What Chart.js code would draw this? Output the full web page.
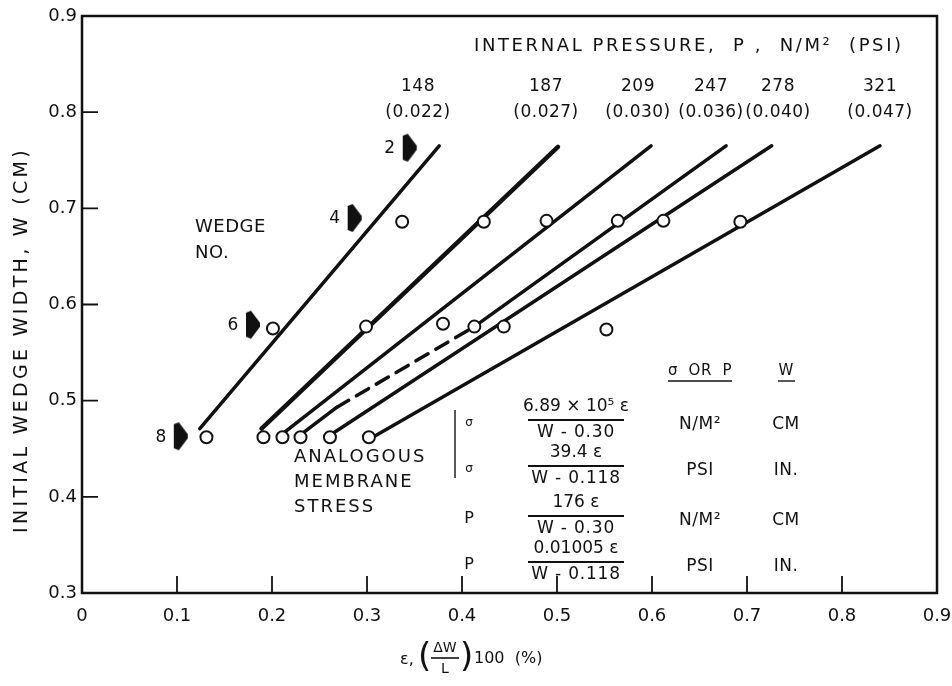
<!DOCTYPE html>
<html>
<head>
<meta charset="utf-8">
<script src="https://cdn.jsdelivr.net/npm/chart.js@4.4.0/dist/chart.umd.min.js"></script>
<style>
  body { margin: 0; background: #fff; }
</style>
</head>
<body>
<canvas id="wedgeChart" width="952" height="686"></canvas>
<script>
// Internal pressure of each test line, N/M^2 and (PSI)
const pressureNm2 = ['148', '187', '209', '247', '278', '321'];
const pressurePsi = ['(0.022)', '(0.027)', '(0.030)', '(0.036)', '(0.040)', '(0.047)'];

// Measured points: strain (%) against initial wedge width (cm)
const pointStrain = [0.131, 0.191, 0.211, 0.230, 0.261, 0.302,
                     0.201, 0.299, 0.380, 0.413, 0.444, 0.552,
                     0.337, 0.423, 0.489, 0.564, 0.612, 0.693];
const pointWidth = [0.462, 0.462, 0.462, 0.462, 0.462, 0.462,
                    0.575, 0.577, 0.580, 0.577, 0.577, 0.574,
                    0.686, 0.686, 0.687, 0.687, 0.687, 0.686];

// Fitted line ends, one per pressure
const lineStartStrain = [0.124, 0.189, 0.213, 0.232, 0.261, 0.306];
const lineStartWidth = [0.471, 0.471, 0.467, 0.466, 0.464, 0.462];
const lineEndStrain = [0.376, 0.501, 0.599, 0.678, 0.726, 0.840];
const lineEndWidth = [0.765, 0.764, 0.765, 0.765, 0.765, 0.765];
// the 247 line runs dashed between these two points
const dashFrom = { x: 0.268, y: 0.493 };
const dashTo = { x: 0.413, y: 0.577 };

// Wedge number markers
const wedgeNo = ['2', '4', '6', '8'];
const wedgeStrain = [0.345, 0.287, 0.180, 0.104];
const wedgeWidth = [0.763, 0.690, 0.579, 0.463];

const xTicks = [0.1, 0.2, 0.3, 0.4, 0.5, 0.6, 0.7, 0.8];
const yTicks = [0.4, 0.5, 0.6, 0.7, 0.8];

const INK = '#111';
Chart.defaults.font.family = '"DejaVu Sans", sans-serif';
Chart.defaults.color = INK;

// filled arrow used to flag the wedge numbers
function wedgeArrow() {
    const c = document.createElement('canvas');
    c.width = 16;
    c.height = 30;
    const g = c.getContext('2d');
    g.fillStyle = INK;
    g.beginPath();
    g.moveTo(1, 3);
    g.lineTo(6, 1);
    g.lineTo(15, 13);
    g.lineTo(15, 17);
    g.lineTo(6, 29);
    g.lineTo(1, 27);
    g.closePath();
    g.fill();
    return c;
}

const datasets = [];

datasets.push({
    label: 'points',
    data: pointStrain.map((x, i) => ({ x: x, y: pointWidth[i] })),
    pointStyle: 'circle',
    pointRadius: 6,
    pointBorderWidth: 2,
    pointBackgroundColor: '#fff',
    pointBorderColor: INK,
    showLine: false,
    order: 0
});

datasets.push({
    label: 'wedges',
    data: wedgeStrain.map((x, i) => ({ x: x, y: wedgeWidth[i] })),
    pointStyle: wedgeArrow(),
    showLine: false,
    order: 0
});

pressureNm2.forEach((p, i) => {
    let pts = [{ x: lineStartStrain[i], y: lineStartWidth[i] }];
    if (i === 3) pts.push(dashFrom, dashTo);
    pts.push({ x: lineEndStrain[i], y: lineEndWidth[i] });
    datasets.push({
        label: p,
        type: 'line',
        data: pts,
        borderColor: INK,
        borderWidth: i === 1 ? 4.5 : 3.5,
        pointRadius: 0,
        fill: false,
        tension: 0,
        borderCapStyle: 'round',
        segment: i === 3 ? { borderDash: ctx => ctx.p0DataIndex === 1 ? [14, 9] : undefined } : undefined,
        order: 1
    });
});

function txt(ctx, s, x, y, size, align, spacing) {
    ctx.font = size + 'px "DejaVu Sans"';
    ctx.letterSpacing = (spacing || 0) + 'px';
    ctx.textAlign = align || 'left';
    ctx.textBaseline = 'middle';
    ctx.fillText(s, x, y);
}

function hline(ctx, x1, x2, y, w) {
    ctx.lineWidth = w || 1.6;
    ctx.beginPath();
    ctx.moveTo(x1, y);
    ctx.lineTo(x2, y);
    ctx.stroke();
}

// box round the plot with inward tick marks
const framePlugin = {
    id: 'frame',
    beforeDatasetsDraw(chart) {
        const { ctx, chartArea: a, scales: { x, y } } = chart;
        ctx.save();
        ctx.strokeStyle = INK;
        ctx.lineWidth = 2.5;
        ctx.strokeRect(a.left, a.top, a.right - a.left, a.bottom - a.top);
        ctx.lineWidth = 1.8;
        ctx.beginPath();
        xTicks.forEach(v => {
            const px = x.getPixelForValue(v);
            ctx.moveTo(px, a.bottom);
            ctx.lineTo(px, a.bottom - 17);
        });
        yTicks.forEach(v => {
            const py = y.getPixelForValue(v);
            ctx.moveTo(a.left, py);
            ctx.lineTo(a.left + 16, py);
        });
        ctx.stroke();
        ctx.restore();
    }
};

// titles, pressure labels, wedge numbers and the stress table
const notesPlugin = {
    id: 'notes',
    afterDatasetsDraw(chart) {
        const ctx = chart.ctx;
        ctx.save();
        ctx.fillStyle = INK;
        ctx.strokeStyle = INK;

        // wedge numbers beside the arrows
        const wm = chart.getDatasetMeta(1);
        wm.data.forEach((el, i) => txt(ctx, wedgeNo[i], el.x - 20, el.y + 1, 17, 'center'));

        // pressure heading and labels over the lines
        txt(ctx, 'INTERNAL PRESSURE,  P ,  N/M\u00B2  (PSI)', 474, 46, 18, 'left', 2.6);
        const labelX = [418, 546, 638, 711, 778, 880];
        pressureNm2.forEach((p, i) => {
            txt(ctx, p, labelX[i], 87, 17, 'center', 0.5);
            txt(ctx, pressurePsi[i], labelX[i], 113, 17, 'center', 0.5);
        });

        txt(ctx, 'WEDGE', 195, 227, 18, 'left', 0.5);
        txt(ctx, 'NO.', 195, 253, 18, 'left', 0.5);

        txt(ctx, 'ANALOGOUS', 294, 457, 18, 'left', 2);
        txt(ctx, 'MEMBRANE', 294, 482, 18, 'left', 2);
        txt(ctx, 'STRESS', 294, 507, 18, 'left', 2);

        // table of stress formulas
        txt(ctx, '\u03C3  OR  P', 700, 371, 15, 'center', 0.5);
        hline(ctx, 668, 732, 381, 1.4);
        txt(ctx, 'W', 786, 371, 15, 'center');
        hline(ctx, 778, 795, 381, 1.4);

        ctx.lineWidth = 1.4;
        ctx.beginPath();
        ctx.moveTo(455, 410);
        ctx.lineTo(455, 478);
        ctx.stroke();

        const rows = [
            { sym: '\u03C3', num: '6.89 \u00D7 10\u2075 \u03B5', den: 'W - 0.30', bar: 420, unit: 'N/M\u00B2', w: 'CM', small: true },
            { sym: '\u03C3', num: '39.4 \u03B5', den: 'W - 0.118', bar: 466, unit: 'PSI', w: 'IN.', small: true },
            { sym: 'P', num: '176 \u03B5', den: 'W - 0.30', bar: 516, unit: 'N/M\u00B2', w: 'CM' },
            { sym: 'P', num: '0.01005 \u03B5', den: 'W - 0.118', bar: 562, unit: 'PSI', w: 'IN.' }
        ];
        rows.forEach(r => {
            txt(ctx, r.sym, 469, r.bar + 3, r.small ? 12 : 16, 'center');
            txt(ctx, r.num, 576, r.bar - 13, 17, 'center', 0);
            hline(ctx, 528, 624, r.bar, 2);
            txt(ctx, r.den, 576, r.bar + 13, 17, 'center', 0.8);
            txt(ctx, r.unit, 700, r.bar + 5, 17, 'center', 0.5);
            txt(ctx, r.w, 786, r.bar + 5, 17, 'center', 0.5);
        });

        // x axis title with the strain fraction
        txt(ctx, '\u03B5,', 400, 660, 16, 'left');
        txt(ctx, '(', 418, 658, 34, 'left');
        txt(ctx, '\u0394W', 445, 648, 14, 'center');
        hline(ctx, 431, 459, 658, 1.6);
        txt(ctx, 'L', 445, 669, 14, 'center');
        txt(ctx, ')', 460, 658, 34, 'left');
        txt(ctx, '100  (%)', 474, 659, 16, 'left');

        // y axis title
        ctx.translate(22, 340);
        ctx.rotate(-Math.PI / 2);
        txt(ctx, 'INITIAL WEDGE WIDTH, W (CM)', 0, 0, 19, 'center', 3.3);
        ctx.restore();
    }
};

const chart = new Chart(document.getElementById('wedgeChart'), {
    type: 'scatter',
    data: { datasets: datasets },
    options: {
        responsive: false,
        animation: false,
        layout: { padding: { top: 16, right: 15, left: 0, bottom: 0 } },
        plugins: {
            legend: { display: false },
            tooltip: { enabled: false }
        },
        scales: {
            x: {
                type: 'linear',
                min: 0,
                max: 0.9,
                afterFit: s => {
                    s.height = 93;
                    s.paddingLeft = 0;
                    s.paddingRight = 0;
                },
                grid: { display: false, drawTicks: false },
                border: { display: false },
                ticks: {
                    stepSize: 0.1,
                    padding: 13,
                    maxRotation: 0,
                    autoSkip: false,
                    font: { size: 18 },
                    callback: v => v === 0 ? '0' : v.toFixed(1)
                }
            },
            y: {
                type: 'linear',
                min: 0.3,
                max: 0.9,
                afterFit: s => {
                    s.width = 82;
                    s.paddingTop = 0;
                    s.paddingBottom = 0;
                },
                grid: { display: false, drawTicks: false },
                border: { display: false },
                ticks: {
                    stepSize: 0.1,
                    padding: 5,
                    font: { size: 18 },
                    callback: v => v.toFixed(1)
                }
            }
        }
    },
    plugins: [framePlugin, notesPlugin]
});
</script>
</body>
</html>
